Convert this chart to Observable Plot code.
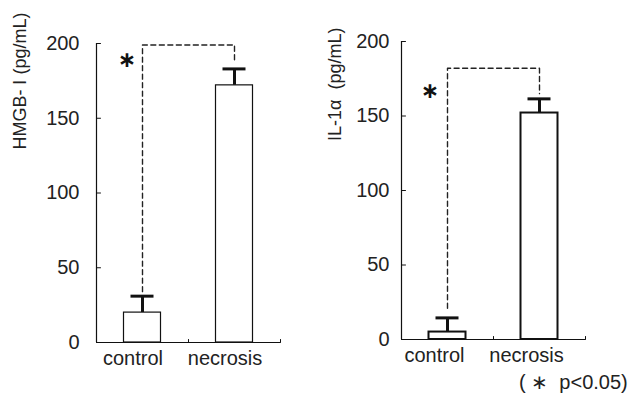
<!DOCTYPE html>
<html><head><meta charset="utf-8">
<script src="https://cdn.jsdelivr.net/npm/d3@7"></script>
<script src="https://cdn.jsdelivr.net/npm/@observablehq/plot@0.6"></script>
<style>
body{margin:0;background:#fff;}
#wrap{position:relative;width:632px;height:399px;font-family:Arial,"Liberation Sans",sans-serif;}
#wrap svg{position:absolute;top:0;}
#note{position:absolute;left:519px;top:370px;font-size:20px;line-height:24px;white-space:pre;color:#222;}
</style></head><body><div id="wrap"><div id="note">( ∗  p&lt;0.05)</div></div>
<script>
// ---- data ----
const categories = ["control", "necrosis"];
const hmgbValues = [20, 172];
const hmgbErrors = [11, 11];
const il1Values = [5, 152];
const il1Errors = [9.5, 9.5];
const yTicks = [0, 50, 100, 150, 200];
const xBoundaries = [0, 1, 2];
// bracket: [left leg bottom, top, right leg bottom]
const hmgbBracket = [34, 199, 187];
const il1Bracket = [21, 182, 165];
// asterisk position [x (band units), y]
const hmgbStar = [0.33, 189];
const il1Star = [0.31, 167];

const lineShape = {draw(context, l) { context.moveTo(0, 0); context.lineTo(0, -l); }};
const FONT = 'Arial, "Liberation Sans", sans-serif';

function panel(o) {
  const rows = categories.map((c, i) => ({i, category: c, value: o.values[i], err: o.errors[i]}));
  const b = o.bracket;
  const bracketPts = [
    {x: 0.5, y: b[0]}, {x: 0.5, y: b[1]}, {x: 1.5, y: b[1]}, {x: 1.5, y: b[2]}
  ];
  return Plot.plot({
    width: 316, height: 399,
    marginLeft: o.ml, marginRight: o.mr, marginTop: o.mt, marginBottom: o.mb,
    style: {fontFamily: FONT, background: "transparent", overflow: "visible"},
    x: {domain: [0, 2], axis: null},
    y: {domain: [0, 200], axis: null},
    marks: [
      Plot.ruleX([0], {y1: 0, y2: 200, stroke: "#111", strokeWidth: 1.2}),
      Plot.ruleY([0], {x1: 0, x2: 2, stroke: "#111", strokeWidth: 1.2}),
      Plot.vector(yTicks, {x: 0, y: d => d, length: 4, rotate: 90, anchor: "start", shape: lineShape, stroke: "#111", strokeWidth: 1}),
      Plot.vector(xBoundaries, {x: d => d, y: 0, length: 3, rotate: 0, anchor: "start", shape: lineShape, stroke: "#111", strokeWidth: 1}),
      Plot.text(yTicks, {x: 0, y: d => d, text: d => String(d), textAnchor: "end", dx: -o.tickPad, fontSize: 20, fill: "#222"}),
      Plot.line(bracketPts, {x: "x", y: "y", stroke: "#222", strokeWidth: 1.4, strokeDasharray: "5,3.5"}),
      Plot.ruleX(rows, {x: d => d.i + 0.5, y1: d => d.value, y2: d => d.value + d.err, stroke: "#111", strokeWidth: 3}),
      Plot.ruleY(rows, {y: d => d.value + d.err, x1: d => d.i + 0.5, x2: d => d.i + 0.5, insetLeft: -11.5, insetRight: -11.5, stroke: "#111", strokeWidth: 3}),
      Plot.rectY(rows, {x1: d => d.i, x2: d => d.i + 1, y: "value", insetLeft: 27.5, insetRight: 27.5, fill: "white", stroke: "#111", strokeWidth: o.barStroke}),
      Plot.text(rows, {x: d => d.i + 0.5, y: 0, text: "category", dy: 16, dx: o.labelDx, fontSize: 20, lineAnchor: "middle", fill: "#222"}),
      Plot.text([o.star], {x: d => d[0], y: d => d[1], text: () => "∗", fontSize: 22, fontWeight: "bold", fontFamily: "DejaVu Sans", lineAnchor: "middle", fill: "#111"}),
      Plot.text([o.title], {frameAnchor: "top-left", text: d => d, rotate: -90, textAnchor: "end", lineAnchor: "middle", dx: o.tdx, dy: o.tdy, fontSize: 18, fill: "#222", letterSpacing: o.ls})
    ]
  });
}

const left = panel({values: hmgbValues, errors: hmgbErrors, bracket: hmgbBracket, star: hmgbStar,
  title: "HMGB- Ⅰ (pg/mL)", ml: 96, mr: 36, mt: 43, mb: 57, tickPad: 17, barStroke: 1.2, labelDx: -9.5, tdx: -76, tdy: -31, ls: "1.2px"});
const right = panel({values: il1Values, errors: il1Errors, bracket: il1Bracket, star: il1Star,
  title: "IL-1α  (pg/mL)", ml: 85, mr: 47, mt: 41, mb: 60, tickPad: 12, barStroke: 2, labelDx: -13, tdx: -66, tdy: -14, ls: "1.8px"});
left.style.left = "0px";
right.style.left = "316px";
const wrap = document.getElementById("wrap");
wrap.appendChild(left);
wrap.appendChild(right);
</script></body></html>
